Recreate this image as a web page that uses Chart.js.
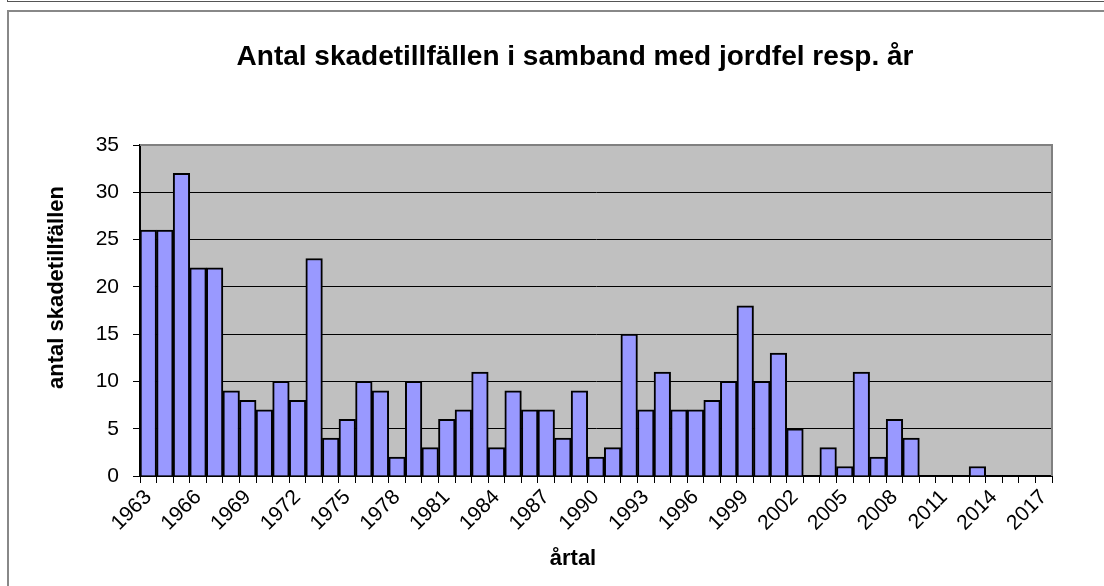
<!DOCTYPE html>
<html>
<head>
<meta charset="utf-8">
<script src="https://cdn.jsdelivr.net/npm/chart.js@4.4.1/dist/chart.umd.min.js"></script>
<style>
  html, body { margin: 0; padding: 0; background: #fff; overflow: hidden; }
  #wrap { position: relative; width: 1104px; height: 586px; }
  .frame1 { position: absolute; left: 7px; top: -10px; width: 1200px; height: 10px; border: 1px solid #555; }
  .frame2 { position: absolute; left: 7px; top: 10px; width: 1200px; height: 700px; border: 2px solid #888; }
  canvas { position: absolute; left: 0; top: 0; }
</style>
</head>
<body>
<div id="wrap">
  <div class="frame1"></div>
  <div class="frame2"></div>
  <canvas id="myChart" width="1104" height="586"></canvas>
</div>
<script>
let years = [];
for (let y = 1963; y <= 2017; y++) years.push(String(y));

let counts = [
    26, 26, 32, 22, 22, 9, 8, 7, 10, 8,
    23, 4, 6, 10, 9, 2, 10, 3, 6, 7,
    11, 3, 9, 7, 7, 4, 9, 2, 3, 15,
    7, 11, 7, 7, 8, 10, 18, 10, 13, 5,
    0, 3, 1, 11, 2, 6, 4, 0, 0, 0,
    1, 0, 0, 0, 0,
];

let yTicks = [0, 5, 10, 15, 20, 25, 30, 35];

let chartTitle = "Antal skadetillfällen i samband med jordfel resp. år";
let yTitle = "antal skadetillfällen";
let xTitle = "årtal";

const FONT = "'Liberation Sans', Arial, sans-serif";

// grey plot area with grey top/right border
let plotBackground = {
    id: "plotBackground",
    beforeDraw(chart) {
        let a = chart.chartArea;
        let ctx = chart.ctx;
        ctx.save();
        ctx.fillStyle = "#C0C0C0";
        ctx.fillRect(a.left, a.top, a.right - a.left, a.bottom - a.top);
        ctx.restore();
    },
    afterDraw(chart) {
        let a = chart.chartArea;
        let ctx = chart.ctx;
        ctx.save();
        ctx.strokeStyle = "#808080";
        ctx.lineWidth = 2;
        ctx.beginPath();
        ctx.moveTo(a.left, a.top);
        ctx.lineTo(a.right, a.top);
        ctx.lineTo(a.right, a.bottom);
        ctx.stroke();
        ctx.restore();
    },
};

// titles placed like the Excel original
let titles = {
    id: "titles",
    afterDraw(chart) {
        let ctx = chart.ctx;
        let a = chart.chartArea;
        ctx.save();
        ctx.fillStyle = "#000";
        ctx.textAlign = "center";
        ctx.textBaseline = "middle";
        ctx.font = "bold 28px " + FONT;
        ctx.fillText(chartTitle, 575, 57);
        ctx.font = "bold 22px " + FONT;
        ctx.fillText(xTitle, 573, 559);
        ctx.translate(57, (a.top + a.bottom) / 2 - 23);
        ctx.rotate(-Math.PI / 2);
        ctx.fillText(yTitle, 0, 0);
        ctx.restore();
    },
};

let ctx = document.getElementById("myChart").getContext("2d");

let barChart = new Chart(ctx, {
    type: "bar",
    data: {
        labels: years,
        datasets: [
            {
                label: "antal",
                data: counts,
                backgroundColor: "#9999FF",
                borderColor: "#000000",
                borderWidth: 2,
                barPercentage: 1,
                categoryPercentage: 1,
            },
        ],
    },
    options: {
        responsive: false,
        animation: false,
        layout: {
            padding: { top: 145, right: 52, bottom: 0, left: 0 },
        },
        plugins: {
            legend: { display: false },
            tooltip: { enabled: false },
        },
        scales: {
            x: {
                afterFit(scale) { scale.height = 110; },
                grid: {
                    offset: true,
                    drawOnChartArea: false,
                    drawTicks: true,
                    tickLength: 7,
                    color: "#000",
                },
                border: { color: "#000", width: 2 },
                ticks: {
                    autoSkip: false,
                    maxRotation: 45,
                    minRotation: 45,
                    padding: 2,
                    color: "#000",
                    font: { size: 21, family: FONT },
                    callback: function (value, index) {
                        return index % 3 === 0 ? years[index] : "";
                    },
                },
            },
            y: {
                min: 0,
                max: 35,
                afterFit(scale) { scale.width = 140; },
                afterBuildTicks(scale) {
                    scale.ticks = yTicks.map(v => ({ value: v }));
                },
                grid: {
                    color: "#000",
                    lineWidth: 1,
                    tickLength: 7,
                },
                border: { color: "#000", width: 2 },
                ticks: {
                    padding: 14,
                    color: "#000",
                    font: { size: 21, family: FONT },
                },
            },
        },
    },
    plugins: [plotBackground, titles],
});
</script>
</body>
</html>
